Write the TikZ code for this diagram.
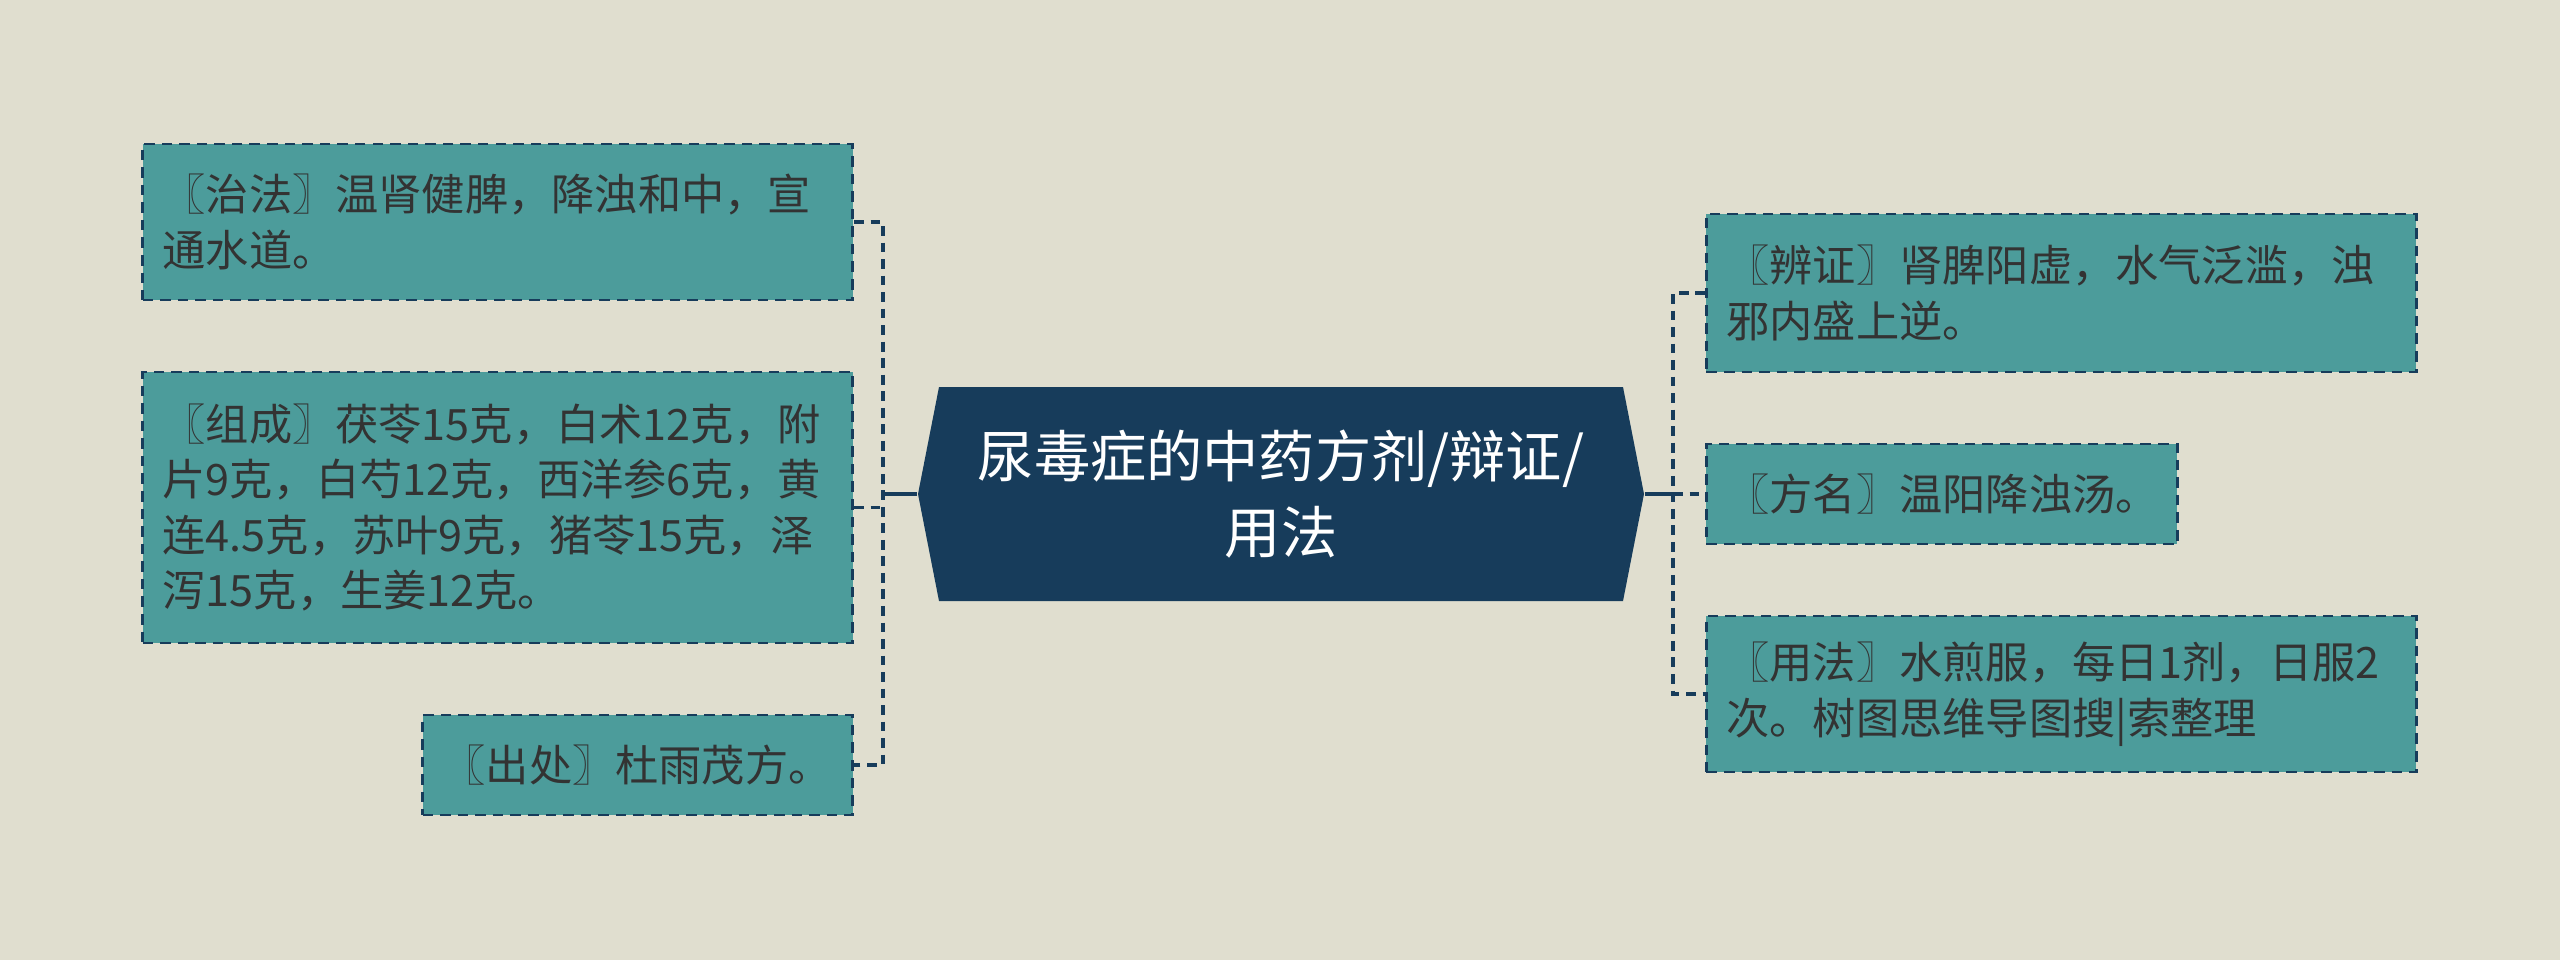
\documentclass[tikz,border=0pt]{standalone}
\usepackage{fontspec}
\setmainfont{Noto Sans CJK SC}
\definecolor{bgcol}{HTML}{E0DECF}
\definecolor{navy}{HTML}{173C5B}
\definecolor{teal}{HTML}{4C9C9B}
\definecolor{txt}{HTML}{333333}
\begin{document}
\begin{tikzpicture}[
    box/.style={draw=navy, line width=0.8pt, dash pattern=on 3pt off 2pt, fill=teal, text=txt,
      inner xsep=0.2cm, inner ysep=0pt, align=left, font=\fontsize{12.3pt}{15.8pt}\selectfont},
    root/.style={text=white, minimum width=7.26cm, minimum height=2.14cm, inner sep=0pt,
      align=center, font=\fontsize{16pt}{21.8pt}\selectfont,
      path picture={\fill[navy] (path picture bounding box.west)
        -- ([xshift=0.21cm]path picture bounding box.north west)
        -- ([xshift=-0.21cm]path picture bounding box.north east)
        -- (path picture bounding box.east)
        -- ([xshift=-0.21cm]path picture bounding box.south east)
        -- ([xshift=0.21cm]path picture bounding box.south west) -- cycle;}},
    link/.style={draw=navy, line width=0.9pt, dash pattern=on 2.8pt off 1.9pt},
    trunk/.style={draw=navy, line width=1.1pt}
  ]
                \fill[bgcol] (0,0) rectangle (25.6,-9.6);
                \useasboundingbox (0,0) rectangle (25.6,-9.6);
                \node[root] (c) at (12.81,-4.94) {尿毒症的中药方剂/辩证/\\用法};
                \node[box, anchor=east, text width=6.7cm, minimum height=1.56cm] (l1) at (8.54,-2.22)
                    {〖治法〗温肾健脾，降浊和中，宣\\通水道。};
                \node[box, anchor=east, text width=6.7cm, minimum height=2.71cm] (l2) at (8.54,-5.075)
                    {〖组成〗茯苓15克，白术12克，附\\片9克，白芍12克，西洋参6克，黄\\连4.5克，苏叶9克，猪苓15克，泽\\泻15克，生姜12克。};
                \node[box, anchor=east, text width=3.9cm, minimum height=1cm] (l3) at (8.54,-7.65)
                    {〖出处〗杜雨茂方。};
                \node[box, anchor=west, text width=6.7cm, minimum height=1.58cm] (r1) at (17.05,-2.93)
                    {〖辨证〗肾脾阳虚，水气泛滥，浊\\邪内盛上逆。};
                \node[box, anchor=west, text width=4.31cm, minimum height=1cm] (r2) at (17.05,-4.94)
                    {〖方名〗温阳降浊汤。};
                \node[box, anchor=west, text width=6.7cm, minimum height=1.56cm] (r3) at (17.05,-6.94)
                    {〖用法〗水煎服，每日1剂，日服2\\次。树图思维导图搜|索整理};
                \coordinate (lj) at (8.83,-4.94);
                \coordinate (rj) at (16.73,-4.94);
                \draw[link] (l1.east) -| (lj |- l3.east) -- (l3.east);
                \draw[link] (l2.east) -- (l2.east -| lj);
                \draw[trunk] (c.west) -- (lj);
                \draw[link] (r1.west) -| (rj |- r3.west) -- (r3.west);
                \draw[link] (rj) -- (r2.west);
                \draw[trunk] (c.east) -- (rj);
\end{tikzpicture}
\end{document}
